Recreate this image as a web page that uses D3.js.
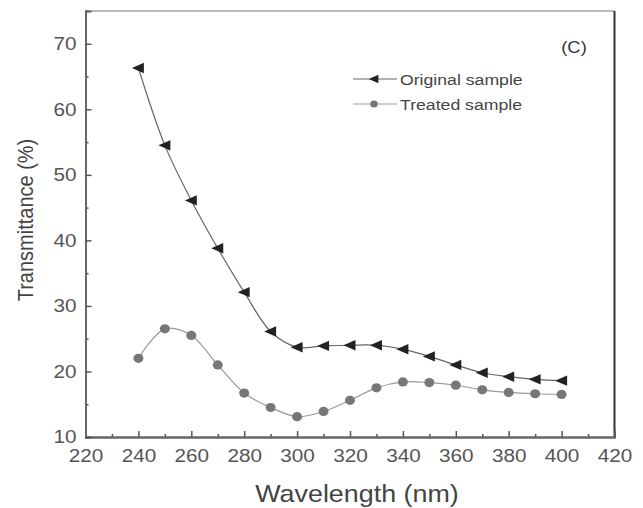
<!DOCTYPE html>
<html>
<head>
<meta charset="utf-8">
<script src="https://cdn.jsdelivr.net/npm/d3@7"></script>
<style>
  html, body { margin: 0; padding: 0; background: #fff; }
  svg { display: block; }
  text { font-family: "Liberation Sans", Arial, sans-serif; }
</style>
</head>
<body>
<svg id="chart" width="643" height="508"></svg>
<script>
const wavelengths = [240, 250, 260, 270, 280, 290, 300, 310, 320, 330, 340, 350, 360, 370, 380, 390, 400];
const originalSample = [66.3, 54.5, 46.1, 38.8, 32.1, 26.1, 23.7, 23.9, 24.0, 24.0, 23.4, 22.3, 21.0, 19.8, 19.2, 18.8, 18.6];
const treatedSample = [22.0, 26.5, 25.5, 21.0, 16.7, 14.5, 13.1, 13.9, 15.6, 17.5, 18.4, 18.3, 17.9, 17.2, 16.8, 16.6, 16.5];
const xTicks = [220, 240, 260, 280, 300, 320, 340, 360, 380, 400, 420];
const yTicks = [10, 20, 30, 40, 50, 60, 70];
const seriesNames = ["Original sample", "Treated sample"];
const panelLabel = "(C)";
const xTitle = "Wavelength (nm)";
const yTitle = "Transmittance (%)";

const svg = d3.select("#chart");
const pL = 85.5, pR = 614.5, pT = 11, pB = 437;
const stretch = 1.12;

const x = d3.scaleLinear().domain([220, 420]).range([pL, pR]);
const y = d3.scaleLinear().domain([10, 75]).range([pB, pT]);

// frame
svg.append("line").attr("x1", pL).attr("x2", pR).attr("y1", pT).attr("y2", pT)
  .attr("stroke", "#777").attr("stroke-width", 1.2);
svg.append("line").attr("x1", pR).attr("x2", pR).attr("y1", pT).attr("y2", pB)
  .attr("stroke", "#333").attr("stroke-width", 2);

// axes
const xAxis = d3.axisBottom(x).tickValues(xTicks).tickSize(-6).tickPadding(12).tickFormat(d3.format("d"));
const xMinor = d3.axisBottom(x).tickValues(d3.range(230, 420, 20)).tickSize(-3).tickFormat("");
const yAxis = d3.axisLeft(y).tickValues(yTicks).tickSize(-6).tickPadding(8).tickFormat(d3.format("d"));
const yMinor = d3.axisLeft(y).tickValues(d3.range(15, 75, 10)).tickSize(-3).tickFormat("");

function styleAxis(g) {
  g.select(".domain").attr("stroke", "#666").attr("stroke-width", 1.8);
  g.selectAll(".tick line").attr("stroke", "#555").attr("stroke-width", 1.5);
  g.selectAll(".tick text").attr("fill", "#555").style("font-size", "18.5px")
    .style("font-family", '"Liberation Sans", Arial, sans-serif')
    .attr("transform", `scale(${stretch},1)`);
}

svg.append("g").attr("transform", `translate(0,${pB})`).call(xMinor).call(styleAxis);
svg.append("g").attr("transform", `translate(0,${pB})`).call(xAxis).call(styleAxis);
svg.append("g").attr("transform", `translate(${pL},0)`).call(yMinor).call(styleAxis);
svg.append("g").attr("transform", `translate(${pL},0)`).call(yAxis).call(styleAxis);

// titles
svg.append("text").attr("transform", `translate(357,502) scale(${stretch},1)`).attr("text-anchor", "middle")
  .attr("fill", "#444").style("font-size", "24px").text(xTitle);
svg.append("text").attr("transform", `translate(33,220) rotate(-90) scale(1,${stretch})`).attr("text-anchor", "middle")
  .attr("fill", "#444").style("font-size", "20px").text(yTitle);
svg.append("text").attr("transform", `translate(574,53) scale(1.15,1)`).attr("text-anchor", "middle")
  .attr("fill", "#333").style("font-size", "16px").text(panelLabel);

// lines
const line = d3.line().x(d => x(d[0])).y(d => y(d[1])).curve(d3.curveCatmullRom);
const origData = wavelengths.map((w, i) => [w, originalSample[i]]);
const treatData = wavelengths.map((w, i) => [w, treatedSample[i]]);

svg.append("path").datum(treatData).attr("d", line).attr("fill", "none")
  .attr("stroke", "#999").attr("stroke-width", 1.2);
svg.append("path").datum(origData).attr("d", line).attr("fill", "none")
  .attr("stroke", "#666").attr("stroke-width", 1.2);

const tri = "M-6.5,0 L5.5,-5.2 L5.5,5.2 Z";
svg.append("g").selectAll("ellipse").data(treatData).join("ellipse")
  .attr("cx", d => x(d[0])).attr("cy", d => y(d[1])).attr("rx", 5).attr("ry", 4.6).attr("fill", "#777");
svg.append("g").selectAll("path").data(origData).join("path")
  .attr("transform", d => `translate(${x(d[0])},${y(d[1])})`).attr("d", tri).attr("fill", "#222");

// legend
const legY = [79, 104];
svg.append("line").attr("x1", 353).attr("x2", 397).attr("y1", legY[0]).attr("y2", legY[0])
  .attr("stroke", "#666").attr("stroke-width", 1.2);
svg.append("path").attr("transform", `translate(374,${legY[0]}) scale(0.8)`).attr("d", tri).attr("fill", "#222");
svg.append("line").attr("x1", 353).attr("x2", 397).attr("y1", legY[1]).attr("y2", legY[1])
  .attr("stroke", "#999").attr("stroke-width", 1.2);
svg.append("ellipse").attr("cx", 374).attr("cy", legY[1]).attr("rx", 3.8).attr("ry", 3.5).attr("fill", "#777");
seriesNames.forEach((n, i) => {
  svg.append("text").attr("transform", `translate(400,${legY[i] + 5.5}) scale(1.14,1)`).attr("fill", "#444")
    .style("font-size", "15.5px").text(n);
});
</script>
</body>
</html>
